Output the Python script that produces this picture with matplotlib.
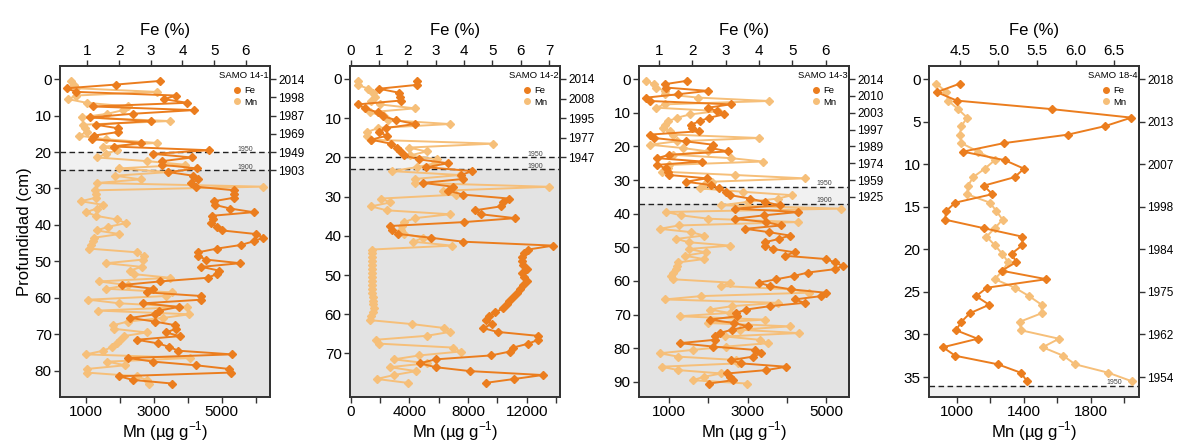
import matplotlib
matplotlib.use("Agg")
import matplotlib.pyplot as plt
from matplotlib.lines import Line2D

plt.rcParams["font.family"] = ["Liberation Sans", "DejaVu Sans"]
plt.rcParams["mathtext.fontset"] = "custom"
plt.rcParams["mathtext.rm"] = "Liberation Sans"

FE_COLOR = "#EB7D1E"
MN_COLOR = "#F6BF79"
LIGHT_SHADE = "#F1F1F1"
DARK_SHADE = "#E3E3E3"

# ---- SAMO 14-1 ----
depth_14_1 = [
    0.5, 1.5, 2.5, 3.5, 4.5, 5.5, 6.5, 7.5, 8.5, 9.5,
    10.5, 11.5, 12.5, 13.5, 14.5, 15.5, 16.5, 17.5, 18.5, 19.5,
    20.5, 21.5, 22.5, 23.5, 24.5, 25.5, 26.5, 27.5, 28.5, 29.5,
    30.5, 31.5, 32.5, 33.5, 34.5, 35.5, 36.5, 37.5, 38.5, 39.5,
    40.5, 41.5, 42.5, 43.5, 44.5, 45.5, 46.5, 47.5, 48.5, 49.5,
    50.5, 51.5, 52.5, 53.5, 54.5, 55.5, 56.5, 57.5, 58.5, 59.5,
    60.5, 61.5, 62.5, 63.5, 64.5, 65.5, 66.5, 67.5, 68.5, 69.5,
    70.5, 71.5, 72.5, 73.5, 74.5, 75.5, 76.5, 77.5, 78.5, 79.5,
    80.5, 81.5, 82.5, 83.5,
]
fe_14_1 = [
    3.29, 1.89, 0.35, 0.64, 3.80, 3.43, 4.15, 1.17, 4.36, 2.44,
    1.08, 3.00, 1.26, 1.98, 1.98, 1.20, 1.15, 2.70, 1.85, 4.83,
    3.08, 4.29, 3.37, 3.35, 4.47, 3.56, 4.34, 4.50, 4.28, 4.43,
    5.64, 5.64, 5.64, 4.99, 5.03, 5.50, 6.24, 4.92, 4.95, 4.90,
    5.08, 5.24, 6.32, 6.55, 6.24, 5.84, 5.08, 4.50, 4.50, 4.74,
    5.82, 4.60, 5.14, 5.08, 4.79, 3.29, 2.08, 3.08, 2.89, 4.60,
    4.60, 2.77, 3.88, 3.27, 3.15, 2.36, 3.12, 3.77, 3.79, 3.48,
    3.92, 2.56, 3.24, 3.59, 3.87, 5.55, 2.29, 3.08, 4.43, 5.46,
    5.52, 2.00, 2.43, 3.67,
]
mn_14_1 = [
    560, 650, 700, 3080, 700, 480, 1020, 2250, 2100, 1630,
    870, 3480, 920, 970, 1040, 790, 1590, 3080, 1510, 1900,
    1590, 1330, 2810, 3930, 1970, 3430, 1850, 2620, 1310, 6230,
    1265, 1295, 1300, 850, 1510, 1315, 1000, 1300, 1900, 2180,
    1660, 1315, 1980, 1250, 1200, 1150, 1100, 2490, 2710, 2690,
    1590, 2640, 2300, 2420, 3480, 1370, 2240, 1590, 3530, 3360,
    1070, 1980, 3990, 1360, 4050, 3280, 2230, 1810, 1830, 2790,
    2110, 2000, 1900, 1760, 1510, 1000, 4070, 1630, 2150, 1040,
    1020, 2490, 2790, 2850,
]

# ---- SAMO 14-2 ----
depth_14_2 = [
    0.5, 1.5, 2.5, 3.5, 4.5, 5.5, 6.5, 7.5, 8.5, 9.5,
    10.5, 11.5, 12.5, 13.5, 14.5, 15.5, 16.5, 17.5, 18.5, 19.5,
    20.5, 21.5, 22.5, 23.5, 24.5, 25.5, 26.5, 27.5, 28.5, 29.5,
    30.5, 31.5, 32.5, 33.5, 34.5, 35.5, 36.5, 37.5, 38.5, 39.5,
    40.5, 41.5, 42.5, 43.5, 44.5, 45.5, 46.5, 47.5, 48.5, 49.5,
    50.5, 51.5, 52.5, 53.5, 54.5, 55.5, 56.5, 57.5, 58.5, 59.5,
    60.5, 61.5, 62.5, 63.5, 64.5, 65.5, 66.5, 67.5, 68.5, 69.5,
    70.5, 71.5, 72.5, 73.5, 74.5, 75.5, 76.5, 77.5,
]
fe_14_2 = [
    2.35, 2.35, 1.00, 1.70, 1.75, 1.78, 0.25, 0.50, 0.95, 1.15,
    1.60, 2.27, 1.25, 1.01, 1.27, 0.72, 1.42, 1.62, 1.74, 1.88,
    2.40, 3.44, 2.66, 4.29, 3.88, 3.97, 2.56, 3.62, 3.44, 3.97,
    5.59, 5.38, 5.29, 4.38, 4.59, 5.80, 4.00, 1.39, 1.45, 1.66,
    2.83, 3.97, 7.14, 6.26, 6.10, 6.03, 6.05, 6.06, 6.20, 6.04,
    6.10, 6.20, 6.08, 5.97, 5.85, 5.73, 5.60, 5.50, 5.38, 5.09,
    4.88, 4.77, 5.00, 4.65, 5.18, 6.59, 6.62, 6.26, 5.73, 5.62,
    4.95, 3.00, 2.44, 3.00, 4.21, 6.77, 5.77, 4.76,
]
mn_14_2 = [
    480, 480, 1200, 1500, 1660, 1390, 2000, 4380, 1320, 2270,
    2570, 6770, 1880, 1140, 1140, 1390, 9720, 3950, 5180, 4040,
    5860, 5740, 4500, 2790, 7450, 4380, 4380, 13530, 6310, 7200,
    2070, 2680, 1390, 2450, 6770, 4380, 3650, 3500, 3400, 3600,
    4950, 4270, 6880, 1430, 1430, 1420, 1430, 1440, 1440, 1450,
    1450, 1460, 1460, 1470, 1480, 1500, 1500, 1520, 1560, 1500,
    1380, 1300, 4150, 6360, 6770, 5180, 1730, 1950, 6990, 7490,
    4680, 2950, 5180, 2680, 4450, 2950, 1770, 3880,
]

# ---- SAMO 14-3 ----
depth_14_3 = [
    0.5, 1.5, 2.5, 3.5, 4.5, 5.5, 6.5, 7.5, 8.5, 9.5,
    10.5, 11.5, 12.5, 13.5, 14.5, 15.5, 16.5, 17.5, 18.5, 19.5,
    20.5, 21.5, 22.5, 23.5, 24.5, 25.5, 26.5, 27.5, 28.5, 29.5,
    30.5, 31.5, 32.5, 33.5, 34.5, 35.5, 36.5, 37.5, 38.5, 39.5,
    40.5, 41.5, 42.5, 43.5, 44.5, 45.5, 46.5, 47.5, 48.5, 49.5,
    50.5, 51.5, 52.5, 53.5, 54.5, 55.5, 56.5, 57.5, 58.5, 59.5,
    60.5, 61.5, 62.5, 63.5, 64.5, 65.5, 66.5, 67.5, 68.5, 69.5,
    70.5, 71.5, 72.5, 73.5, 74.5, 75.5, 76.5, 77.5, 78.5, 79.5,
    80.5, 81.5, 82.5, 83.5, 84.5, 85.5, 86.5, 87.5, 88.5, 89.5,
    90.5,
]
fe_14_3 = [
    1.84, 1.18, 1.20, 2.47, 1.57, 0.62, 0.72, 3.15, 2.47, 2.75,
    2.94, 2.50, 2.22, 1.97, 2.00, 2.20, 0.72, 0.85, 1.80, 2.62,
    2.57, 3.07, 1.30, 0.95, 2.30, 0.94, 1.20, 1.27, 1.30, 2.44,
    1.80, 2.57, 2.80, 3.00, 3.14, 3.72, 4.17, 4.62, 3.27, 5.18,
    4.15, 3.27, 4.20, 4.67, 3.59, 4.30, 4.92, 4.60, 4.17, 4.19,
    4.42, 5.07, 4.77, 6.02, 6.27, 6.52, 6.27, 5.47, 5.05, 4.52,
    4.00, 4.32, 4.97, 6.00, 5.87, 5.07, 5.37, 4.32, 3.62, 3.32,
    3.34, 2.52, 3.25, 3.67, 3.19, 2.82, 2.69, 2.67, 1.62, 2.62,
    3.87, 4.07, 3.82, 3.17, 3.45, 4.82, 4.22, 3.05, 3.12, 3.22,
    2.50,
]
mn_14_3 = [
    420, 610, 680, 890, 900, 1740, 3540, 890, 680, 2250,
    1530, 1200, 980, 900, 850, 1020, 1100, 3290, 1200, 510,
    1360, 2000, 1100, 2580, 3390, 1000, 980, 810, 2670, 4450,
    2080, 1900, 1800, 2880, 4130, 3770, 3000, 2330, 5380, 930,
    1310, 2000, 4280, 1250, 760, 1570, 1880, 1190, 1500, 2560,
    1500, 1930, 1400, 1880, 1230, 1200, 1190, 1100, 1060, 1100,
    2560, 2330, 4110, 4560, 1820, 890, 3770, 2600, 2030, 2540,
    1270, 3430, 1990, 4070, 2800, 4300, 2420, 3300, 3520, 2460,
    1610, 760, 1230, 2710, 2750, 810, 1230, 2330, 1880, 1610,
    2980,
]

# ---- SAMO 18-4 ----
depth_18_4 = [
    0.5, 1.5, 2.5, 3.5, 4.5, 5.5, 6.5, 7.5, 8.5, 9.5,
    10.5, 11.5, 12.5, 13.5, 14.5, 15.5, 16.5, 17.5, 18.5, 19.5,
    20.5, 21.5, 22.5, 23.5, 24.5, 25.5, 26.5, 27.5, 28.5, 29.5,
    30.5, 31.5, 32.5, 33.5, 34.5, 35.5,
]
fe_18_4 = [
    4.50, 4.20, 4.46, 5.69, 6.72, 6.38, 5.90, 5.07, 4.54, 5.08,
    5.33, 5.21, 4.81, 4.92, 4.44, 4.32, 4.31, 4.81, 5.31, 5.31,
    5.17, 5.23, 5.04, 5.62, 4.85, 4.71, 4.88, 4.63, 4.52, 4.45,
    4.73, 4.28, 4.44, 4.99, 5.29, 5.37,
]
mn_18_4 = [
    876, 936, 946, 1006, 1060, 1026, 1016, 1026, 1126, 1226,
    1166, 1096, 1066, 1060, 1196, 1236, 1272, 1226, 1176, 1226,
    1270, 1306, 1272, 1226, 1346, 1432, 1506, 1506, 1376, 1382,
    1610, 1512, 1636, 1706, 1906, 2046,
]

# year labels on the right axis
year_depths_14_1 = [0, 5, 10, 15, 20, 25]
years_14_1 = ["2014", "1998", "1987", "1969", "1949", "1903"]
year_depths_14_2 = [0, 5, 10, 15, 20]
years_14_2 = ["2014", "2008", "1995", "1977", "1947"]
year_depths_14_3 = [0, 5, 10, 15, 20, 25, 30, 35]
years_14_3 = ["2014", "2010", "2003", "1997", "1989", "1974", "1959", "1925"]
year_depths_18_4 = [0, 5, 10, 15, 20, 25, 30, 35]
years_18_4 = ["2018", "2013", "2007", "1998", "1984", "1975", "1962", "1954"]

panels = [
    dict(name="SAMO 14-1", depth=depth_14_1, fe=fe_14_1, mn=mn_14_1,
         x0=60, mnlim=(233, 6425), felim=(0.14, 6.76), ylim=(87.2, -3.6),
         mnticks=range(1000, 6001, 1000), mnlabels=[1000, 3000, 5000],
         feticks=[1, 2, 3, 4, 5, 6], feformat="{:.0f}",
         yticks=range(0, 81, 10), ydepths=year_depths_14_1, years=years_14_1,
         d1950=20, d1900=25),
    dict(name="SAMO 14-2", depth=depth_14_2, fe=fe_14_2, mn=mn_14_2,
         x0=350, mnlim=(-50, 14270), felim=(-0.02, 7.38), ylim=(81.1, -3.3),
         mnticks=range(0, 14001, 2000), mnlabels=[0, 4000, 8000, 12000],
         feticks=[0, 1, 2, 3, 4, 5, 6, 7], feformat="{:.0f}",
         yticks=range(0, 71, 10), ydepths=year_depths_14_2, years=years_14_2,
         d1950=20, d1900=23),
    dict(name="SAMO 14-3", depth=depth_14_3, fe=fe_14_3, mn=mn_14_3,
         x0=639, mnlim=(237, 5575), felim=(0.4, 6.7), ylim=(94.5, -3.9),
         mnticks=range(1000, 5001, 1000), mnlabels=[1000, 3000, 5000],
         feticks=[1, 2, 3, 4, 5, 6], feformat="{:.0f}",
         yticks=range(0, 91, 10), ydepths=year_depths_14_3, years=years_14_3,
         d1950=32, d1900=37),
    dict(name="SAMO 18-4", depth=depth_18_4, fe=fe_18_4, mn=mn_18_4,
         x0=929, mnlim=(832, 2089), felim=(4.1, 6.82), ylim=(37.35, -1.57),
         mnticks=range(1000, 2001, 200), mnlabels=[1000, 1400, 1800],
         feticks=[4.5, 5.0, 5.5, 6.0, 6.5], feformat="{:.1f}",
         yticks=range(0, 36, 5), ydepths=year_depths_18_4, years=years_18_4,
         d1950=36, d1900=None),
]

W, H = 1178, 441
fig = plt.figure(figsize=(W / 100, H / 100), dpi=100)
frame = "#333333"

for i, p in enumerate(panels):
    ax = fig.add_axes([p["x0"] / W, 1 - 397 / H, 210 / W, 331 / H])
    ax.set_ylim(*p["ylim"])
    ax.set_xlim(*p["mnlim"])

    # shading for the pre-1950 / pre-1900 sections
    bottom = p["ylim"][0]
    if p["d1900"] is None:
        ax.axhspan(p["d1950"], bottom, color=LIGHT_SHADE, zorder=0, lw=0)
    else:
        ax.axhspan(p["d1950"], p["d1900"], color=LIGHT_SHADE, zorder=0, lw=0)
        ax.axhspan(p["d1900"], bottom, color=DARK_SHADE, zorder=0, lw=0)
    for d, lab in [(p["d1950"], "1950"), (p["d1900"], "1900")]:
        if d is None:
            continue
        ax.axhline(d, color="#222222", lw=1.0, ls=(0, (4, 2.5)), zorder=1)
        ax.text(0.88, d + 0.2 * (p["ylim"][0] - p["ylim"][1]) / 90, lab,
                transform=ax.get_yaxis_transform(), fontsize=5,
                ha="center", va="bottom", color="#444444")

    ax.plot(p["mn"], p["depth"], color=MN_COLOR, lw=1.4, marker="D",
            ms=4.5, zorder=2)
    ax.set_xticks(list(p["mnticks"]))
    ax.set_xticklabels([str(t) if t in p["mnlabels"] else "" for t in p["mnticks"]])
    ax.set_yticks(list(p["yticks"]))
    ax.set_xlabel("Mn (µg g$^{-1}$)", fontsize=12, labelpad=0)
    ax.tick_params(labelsize=11, color=frame, length=4, width=1, pad=2)
    if i == 0:
        ax.set_ylabel("Profundidad (cm)", fontsize=12, labelpad=2)

    axt = ax.twiny()
    axt.set_xlim(*p["felim"])
    axt.plot(p["fe"], p["depth"], color=FE_COLOR, lw=1.4, marker="D",
             ms=4.5, zorder=3)
    axt.set_xticks(p["feticks"])
    axt.set_xticklabels([p["feformat"].format(t) for t in p["feticks"]])
    axt.set_xlabel("Fe (%)", fontsize=12, labelpad=6)
    axt.tick_params(labelsize=11, color=frame, length=4, width=1, pad=2)

    sec = ax.secondary_yaxis("right")
    sec.set_yticks(p["ydepths"], labels=p["years"])
    sec.tick_params(labelsize=8.5, color=frame, length=4, width=1, pad=2)

    for a in (ax, axt):
        for s in a.spines.values():
            s.set_color(frame)
            s.set_linewidth(1.2)
    sec.spines["right"].set_color(frame)
    sec.spines["right"].set_linewidth(1.2)

    axt.text(0.995, 0.985, p["name"], transform=axt.transAxes, fontsize=6.8,
             ha="right", va="top", zorder=5)
    handles = [
        Line2D([], [], color=FE_COLOR, marker="o", ls="none", ms=4),
        Line2D([], [], color=MN_COLOR, marker="o", ls="none", ms=4),
    ]
    axt.legend(handles, ["Fe", "Mn"], loc="upper right",
               bbox_to_anchor=(0.97, 0.96), frameon=False, fontsize=6.8,
               handlelength=0.8, handletextpad=0.3, labelspacing=0.3,
               borderpad=0.2)

fig.savefig("out.png", dpi=100)
